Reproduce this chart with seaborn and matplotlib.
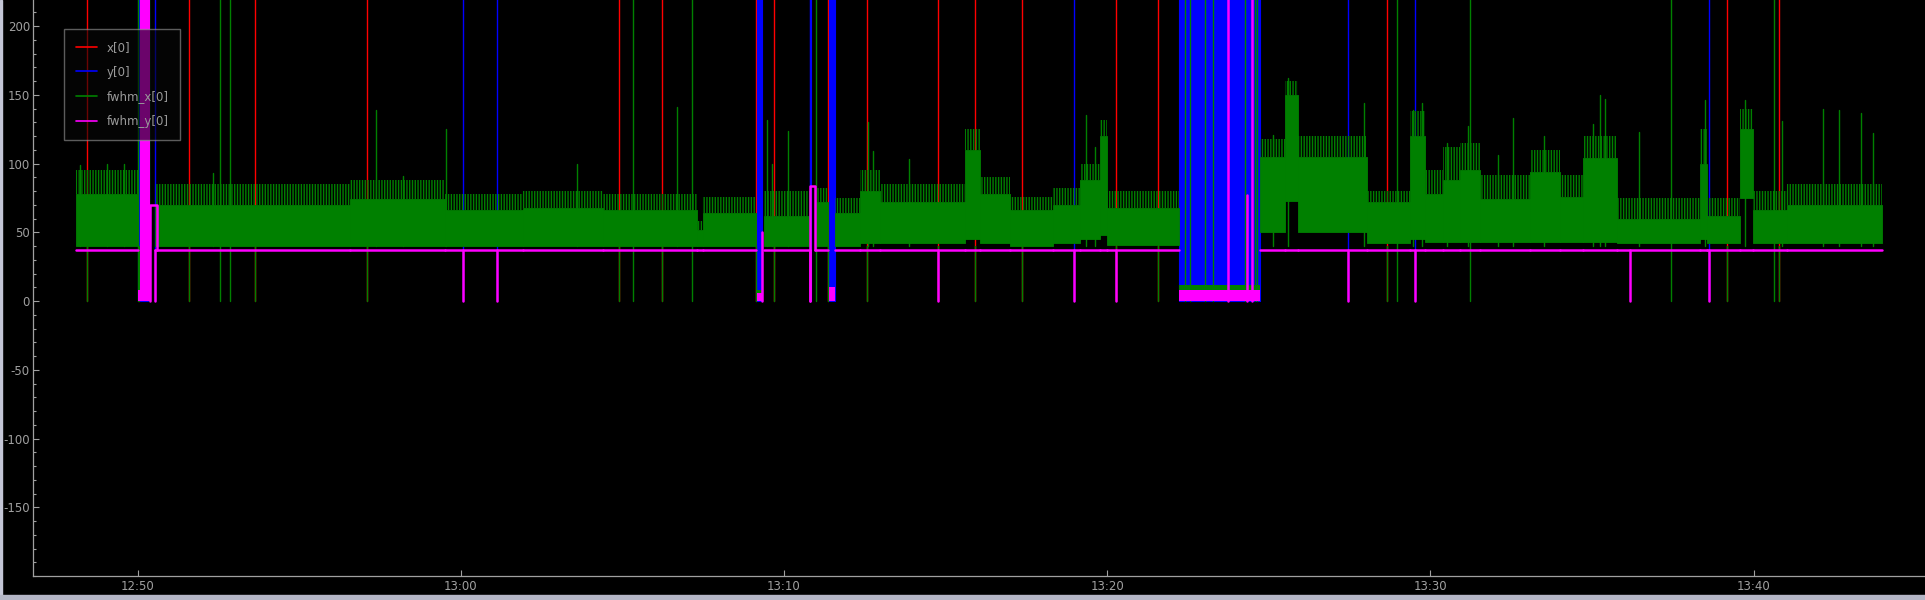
import warnings
import pandas as pd
import matplotlib
matplotlib.use('Agg')
import matplotlib.pyplot as plt
import matplotlib.dates as mdates
from matplotlib.lines import Line2D
from matplotlib.patches import Rectangle
from matplotlib.ticker import MultipleLocator, FixedLocator
import seaborn as sns

warnings.filterwarnings('ignore')

DAY = '2024-05-14 '  # only the clock time is shown on the axis

# fwhm_x[0] is a dense noisy trace: per time segment its low level, the level up to
# which it is solid, and the level its sparse peaks reach
band_edges = ['12:48:06', '12:50:01', '12:50:33', '12:56:35', '12:59:31', '13:01:56', '13:04:24',
              '13:07:19', '13:07:30', '13:09:08', '13:09:23', '13:10:49', '13:10:58', '13:11:22',
              '13:11:35', '13:12:21', '13:12:58', '13:15:36', '13:16:04', '13:17:00', '13:18:20',
              '13:19:10', '13:19:47', '13:20:00', '13:22:13', '13:24:44', '13:25:30', '13:25:54',
              '13:28:02', '13:29:22', '13:29:50', '13:30:23', '13:30:55', '13:31:32', '13:33:05',
              '13:34:01', '13:34:43', '13:35:46', '13:38:20', '13:38:33', '13:39:35', '13:39:59',
              '13:41:02', '13:43:58']
band_lo = [40, None, 40, 40, 40, 40, 40, 40, 40, None, 40, None, 40, None,
           40, 42, 42, 45, 42, 40, 42, 45, 48, 41, None, 50, 73, 50,
           42, 45, 43, 43, 43, 43, 43, 43, 43, 42, 45, 42, 75, 42, 42]
band_hi = [78, None, 70, 74, 66, 68, 66, 52, 64, None, 62, None, 72, None,
           64, 80, 72, 110, 78, 66, 70, 88, 120, 68, None, 105, 150, 105,
           72, 120, 78, 88, 95, 74, 94, 76, 104, 60, 100, 62, 125, 66, 70]
band_peak = [95, None, 85, 88, 78, 80, 78, 58, 76, None, 80, None, 82, None,
             75, 95, 85, 125, 90, 76, 82, 100, 132, 80, None, 118, 160, 120,
             80, 138, 95, 112, 115, 92, 110, 92, 120, 75, 125, 75, 140, 80, 85]

# single tall samples of fwhm_x[0] above the band
spike_t = ['12:48:14', '12:49:04', '12:49:35', '12:52:20', '12:57:23', '12:58:13', '12:59:33',
           '13:03:36', '13:06:42', '13:09:29', '13:09:38', '13:10:08', '13:12:36', '13:12:45',
           '13:13:52', '13:19:21', '13:19:37', '13:25:08', '13:25:36', '13:27:57', '13:29:28',
           '13:29:44', '13:30:31', '13:31:10', '13:32:05', '13:32:33', '13:33:31', '13:35:02',
           '13:35:15', '13:35:24', '13:36:27', '13:38:30', '13:39:44', '13:40:53', '13:42:09',
           '13:42:38', '13:43:19', '13:43:41']
spike_v = [99, 100, 100, 93, 139, 91, 125, 100, 141, 132, 100, 124, 130, 109,
           103, 135, 112, 121, 162, 144, 139, 144, 115, 127, 106, 133, 120, 129,
           150, 147, 123, 146, 146, 131, 140, 139, 137, 122]

# x fit lost: x[0] and fwhm_x[0] fall to 0 (x[0] otherwise sits off scale)
x_drop_t = ['12:48:27', '12:50:02', '12:51:36', '12:53:38', '12:57:06', '13:04:54', '13:06:14',
            '13:09:08', '13:09:42', '13:11:22', '13:12:34', '13:14:46', '13:15:55', '13:17:22',
            '13:20:16', '13:21:34', '13:28:39', '13:39:10', '13:40:47']
# y fit lost: y[0] and fwhm_y[0] fall to 0
y_drop_t = ['12:50:33', '13:00:04', '13:01:08', '13:10:49', '13:18:59', '13:27:27',
            '13:29:31', '13:38:37']
# fwhm_y[0] alone falls to 0
fwhm_y_drop_t = ['13:14:46', '13:20:16', '13:36:10']
# fwhm_x[0] jumps off scale
fwhm_x_high_t = ['12:50:01', '12:50:22', '12:52:33', '12:52:52', '13:05:20', '13:07:09',
                 '13:10:59', '13:22:25', '13:22:34', '13:23:02', '13:23:17', '13:24:16',
                 '13:24:34', '13:24:38', '13:28:58', '13:31:14', '13:37:27', '13:40:38']
# fwhm_y[0] jumps off scale / single samples inside the gaps
fwhm_y_high_t = ['13:23:44', '13:24:29']
fwhm_y_spike_t = ['13:09:20', '13:24:20']
fwhm_y_spike_v = [50, 77]

# gaps where both fits fail and the values flip between 0 and off scale
fail_start = ['12:50:01', '13:09:10', '13:10:49', '13:11:24', '13:22:13']
fail_end = ['12:50:22', '13:09:19', '13:10:50', '13:11:35', '13:24:44']
fail_fwhm_x = [6, 8, 0, 8, 12]
fail_fwhm_y = [8, 6, 0, 10, 8]
fwhm_y_block_start = ['12:50:05']
fwhm_y_block_end = ['12:50:24']
# fwhm_y[0] short plateaus right after a gap
step_start = ['12:50:24', '13:10:49']
step_end = ['12:50:37', '13:10:58']
step_v = [70, 84]

FWHM_Y_BASE = 37
OFF_SCALE = 1000

COLORS = {'x[0]': '#ff0000', 'y[0]': '#0000ff', 'fwhm_x[0]': '#008000', 'fwhm_y[0]': '#ff00ff'}
ZORDER = {'x[0]': 2, 'y[0]': 3, 'fwhm_x[0]': 4, 'fwhm_y[0]': 5}
FG = '#a0a0a0'


def ts(s):
    return pd.Timestamp(DAY + s)


# build the line traces, one unit per stroke
rows = []


def add(series, pts, uid):
    for t, v in pts:
        rows.append({'time': ts(t), 'value': v, 'series': series, 'unit': uid})


n = 0
for t in x_drop_t:
    add('x[0]', [(t, OFF_SCALE), (t, 0)], n); n += 1
    add('fwhm_x[0]', [(t, 40), (t, 0)], n); n += 1
for t in y_drop_t:
    add('y[0]', [(t, OFF_SCALE), (t, 0)], n); n += 1
    add('fwhm_y[0]', [(t, FWHM_Y_BASE), (t, 0)], n); n += 1
for t in fwhm_y_drop_t:
    add('fwhm_y[0]', [(t, FWHM_Y_BASE), (t, 0)], n); n += 1
for t in fwhm_x_high_t:
    add('fwhm_x[0]', [(t, 0), (t, OFF_SCALE)], n); n += 1
for t in fwhm_y_high_t:
    add('fwhm_y[0]', [(t, 0), (t, OFF_SCALE)], n); n += 1
for t, v in zip(fwhm_y_spike_t, fwhm_y_spike_v):
    add('fwhm_y[0]', [(t, 0), (t, v)], n); n += 1
for t, v in zip(spike_t, spike_v):
    add('fwhm_x[0]', [(t, 40), (t, v)], n); n += 1
for s, e, v in zip(step_start, step_end, step_v):
    add('fwhm_y[0]', [(s, 0), (s, v), (e, v), (e, FWHM_Y_BASE)], n); n += 1
for t0, t1, lo in zip(band_edges[:-1], band_edges[1:], band_lo):
    if lo is not None:
        add('fwhm_y[0]', [(t0, FWHM_Y_BASE), (t1, FWHM_Y_BASE)], n); n += 1

df = pd.DataFrame(rows)

sns.set_theme(style='ticks', rc={
    'figure.facecolor': 'black', 'axes.facecolor': 'black', 'axes.edgecolor': FG,
    'axes.labelcolor': FG, 'xtick.color': FG, 'ytick.color': FG, 'text.color': FG,
    'axes.unicode_minus': False, 'hatch.linewidth': 1.0,
})
plt.rcParams['font.family'] = ['DejaVu Sans']

fig = plt.figure(figsize=(19.25, 6.0), dpi=100)
ax = fig.add_axes([33 / 1925, 24 / 600, 1 - 33 / 1925, 576 / 600])

for name in COLORS:
    sub = df[df['series'] == name]
    lw = 1.8 if name == 'fwhm_y[0]' else 1.0
    sns.lineplot(data=sub, x='time', y='value', units='unit', estimator=None, sort=False,
                 color=COLORS[name], lw=lw, ax=ax, legend=False, zorder=ZORDER[name])

# gaps: y[0] flipping between 0 and off scale fills the column
for s, e, gx, gy in zip(fail_start, fail_end, fail_fwhm_x, fail_fwhm_y):
    ax.fill_between([ts(s), ts(e)], 0, OFF_SCALE, color=COLORS['y[0]'], lw=0.8,
                    edgecolor=COLORS['y[0]'], zorder=ZORDER['y[0]'])
    if gx > 0:
        ax.fill_between([ts(s), ts(e)], 0, gx, color=COLORS['fwhm_x[0]'], lw=0,
                        zorder=ZORDER['fwhm_x[0]'])
    if gy > 0:
        ax.fill_between([ts(s), ts(e)], 0, gy, color=COLORS['fwhm_y[0]'], lw=0,
                        zorder=ZORDER['fwhm_y[0]'])
for s, e in zip(fwhm_y_block_start, fwhm_y_block_end):
    ax.fill_between([ts(s), ts(e)], 0, OFF_SCALE, color=COLORS['fwhm_y[0]'], lw=0,
                    zorder=ZORDER['fwhm_y[0]'])

# fwhm_x[0] band: solid body plus a hatched fringe where only the peaks reach
for t0, t1, lo, hi, pk in zip(band_edges[:-1], band_edges[1:], band_lo, band_hi, band_peak):
    if lo is None:
        continue
    ax.fill_between([ts(t0), ts(t1)], lo, hi, color=COLORS['fwhm_x[0]'], lw=0.6,
                    edgecolor=COLORS['fwhm_x[0]'], zorder=ZORDER['fwhm_x[0]'])
    ax.fill_between([ts(t0), ts(t1)], hi, pk, facecolor='none', edgecolor=COLORS['fwhm_x[0]'],
                    hatch='||||||', lw=0, zorder=ZORDER['fwhm_x[0]'])

ax.set_xlim(ts('12:46:46'), ts('13:45:18'))
ax.set_ylim(-200, 219)
ax.set_xlabel('')
ax.set_ylabel('')
ax.xaxis.set_major_locator(mdates.MinuteLocator(byminute=range(0, 60, 10)))
ax.xaxis.set_major_formatter(mdates.DateFormatter('%H:%M'))
ax.yaxis.set_major_locator(FixedLocator(range(-150, 201, 50)))
ax.yaxis.set_minor_locator(MultipleLocator(10))
ax.tick_params(axis='both', which='major', direction='in', length=4.5, width=0.8,
               labelsize=8.5, pad=3, colors=FG)
ax.tick_params(axis='y', which='major', pad=2.2)
ax.tick_params(axis='y', which='minor', direction='in', length=2.4, width=0.8, colors=FG)
for side in ['top', 'right']:
    ax.spines[side].set_visible(False)
for side in ['left', 'bottom']:
    ax.spines[side].set_color(FG)
    ax.spines[side].set_linewidth(0.9)

handles = [Line2D([], [], color=c, lw=1.2) for c in COLORS.values()]
leg = ax.legend(handles, list(COLORS.keys()), loc='upper left',
                bbox_to_anchor=(31 / 1892, 1 - 29 / 576), borderaxespad=0,
                fontsize=8.5, handlelength=1.8, handletextpad=0.8, labelspacing=1.0,
                borderpad=1.0, fancybox=False, framealpha=0.6, facecolor='#080808',
                edgecolor='#9a9a9a')
leg.set_zorder(10)
for txt in leg.get_texts():
    txt.set_color('#9a9a9a')

# widget frame around the plot
fig.patches.append(Rectangle((0, 0), 2 / 1925, 1, transform=fig.transFigure,
                             color='#c4c6d6', zorder=20))
fig.patches.append(Rectangle((0, 0), 1, 5 / 600, transform=fig.transFigure,
                             color='#b4b6c6', zorder=20))

fig.savefig('out.png', dpi=100, facecolor='black')
